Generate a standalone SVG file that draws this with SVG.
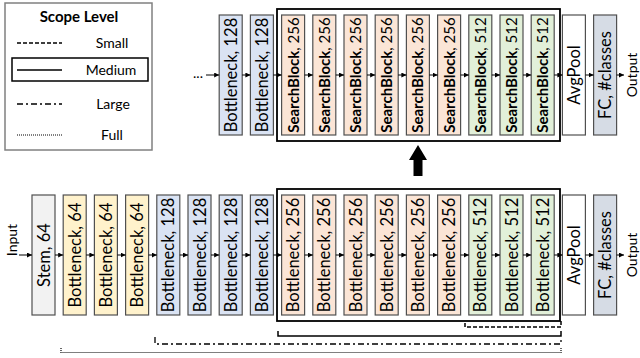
<svg xmlns="http://www.w3.org/2000/svg" width="640" height="358" viewBox="0 0 640 358">
<style>
.box{stroke:#505050;stroke-width:1.2}
.stem{fill:#f2f2f2}.y{fill:#fff2cc}.b{fill:#dae3f3}.o{fill:#fbe5d6}.g{fill:#e2f0d9}.w{fill:#ffffff}.fc{fill:#d6dce5}
.t{font-family:Lato,"Liberation Sans",sans-serif;font-size:16.5px;fill:#000;text-anchor:middle}
.ts{font-family:Lato,"Liberation Sans",sans-serif;font-size:15px;fill:#000;text-anchor:middle}
.lg{font-family:Lato,"Liberation Sans",sans-serif;font-size:14px;fill:#000;text-anchor:middle}
.conn line{stroke:#000;stroke-width:1}
.arr{marker-end:url(#ah)}
.scope{fill:none;stroke:#000}
</style>
<defs>
<marker id="ah" markerUnits="userSpaceOnUse" markerWidth="5" markerHeight="5" refX="5" refY="2.5" orient="auto">
<path d="M0,0 L5,2.5 L0,5 z" fill="#000"/>
</marker>
</defs>

<g id="legend">
<rect x="5" y="3" width="147" height="147" fill="#fff" stroke="#808080" stroke-width="1.5"/>
<text x="79" y="22" font-family="Lato,'Liberation Sans',sans-serif" font-size="15" font-weight="bold" text-anchor="middle">Scope Level</text>
<line x1="17" y1="43" x2="62" y2="43" stroke="#000" stroke-width="1.5" stroke-dasharray="4 2"/>
<text class="lg" x="112" y="48">Small</text>
<rect x="12" y="58" width="136" height="23" fill="none" stroke="#000" stroke-width="1.5"/>
<line x1="17" y1="70" x2="62" y2="70" stroke="#000" stroke-width="1.5"/>
<text class="lg" x="111" y="75">Medium</text>
<line x1="17" y1="104" x2="62" y2="104" stroke="#000" stroke-width="1.5" stroke-dasharray="6 3 2 3"/>
<text class="lg" x="113" y="109">Large</text>
<line x1="17" y1="135" x2="62" y2="135" stroke="#000" stroke-width="1" stroke-dasharray="1 1"/>
<text class="lg" x="112" y="140">Full</text>
</g>

<g id="scopes">
<rect x="277" y="9" width="283" height="132" class="scope" stroke-width="1.8"/>
<rect x="277" y="189" width="283" height="132" class="scope" stroke-width="1.8"/>
<polyline points="465,323 465,327 561,327 561,321" class="scope" stroke-width="1.5" stroke-dasharray="4 2"/>
<polyline points="278,331 278,336 561,336 561,331" class="scope" stroke-width="1.5"/>
<polyline points="155,337 155,344 561,344 561,337" class="scope" stroke-width="1.3" stroke-dasharray="6 3 2 3"/>
<polyline points="61,348 61,352.5 561,352.5 561,348" class="scope" stroke-width="1.2" stroke-dasharray="1 1"/>
</g>

<g id="up-arrow"><polygon points="418,145 427,160 422.5,160 422.5,176 413.5,176 413.5,160 409,160" fill="#000"/></g>

<!-- top row -->
<g id="top-dots"><text x="198" y="78" font-family="Lato,'Liberation Sans',sans-serif" font-size="14" text-anchor="middle">...</text></g>
<g id="top-b128a"><rect class="box b" x="219.2" y="15" width="23" height="120"/><text class="t" transform="translate(236.7,75) rotate(-90)">Bottleneck, 128</text></g>
<g id="top-b128b"><rect class="box b" x="250.4" y="15" width="23" height="120"/><text class="t" transform="translate(267.9,75) rotate(-90)">Bottleneck, 128</text></g>
<g id="top-s1"><rect class="box o" x="281.6" y="15" width="23" height="120"/><text class="ts" transform="translate(298.6,75) rotate(-90)"><tspan font-weight="bold">SearchBlock</tspan>, 256</text></g>
<g id="top-s2"><rect class="box o" x="312.8" y="15" width="23" height="120"/><text class="ts" transform="translate(329.8,75) rotate(-90)"><tspan font-weight="bold">SearchBlock</tspan>, 256</text></g>
<g id="top-s3"><rect class="box o" x="344" y="15" width="23" height="120"/><text class="ts" transform="translate(361,75) rotate(-90)"><tspan font-weight="bold">SearchBlock</tspan>, 256</text></g>
<g id="top-s4"><rect class="box o" x="375.2" y="15" width="23" height="120"/><text class="ts" transform="translate(392.2,75) rotate(-90)"><tspan font-weight="bold">SearchBlock</tspan>, 256</text></g>
<g id="top-s5"><rect class="box o" x="406.4" y="15" width="23" height="120"/><text class="ts" transform="translate(423.4,75) rotate(-90)"><tspan font-weight="bold">SearchBlock</tspan>, 256</text></g>
<g id="top-s6"><rect class="box o" x="437.6" y="15" width="23" height="120"/><text class="ts" transform="translate(454.6,75) rotate(-90)"><tspan font-weight="bold">SearchBlock</tspan>, 256</text></g>
<g id="top-s7"><rect class="box g" x="468.8" y="15" width="23" height="120"/><text class="ts" transform="translate(485.8,75) rotate(-90)"><tspan font-weight="bold">SearchBlock</tspan>, 512</text></g>
<g id="top-s8"><rect class="box g" x="500" y="15" width="23" height="120"/><text class="ts" transform="translate(517,75) rotate(-90)"><tspan font-weight="bold">SearchBlock</tspan>, 512</text></g>
<g id="top-s9"><rect class="box g" x="531.2" y="15" width="23" height="120"/><text class="ts" transform="translate(548.2,75) rotate(-90)"><tspan font-weight="bold">SearchBlock</tspan>, 512</text></g>
<g id="top-avg"><rect class="box w" x="562.4" y="15" width="23" height="120"/><text class="t" transform="translate(579.9,75) rotate(-90)">AvgPool</text></g>
<g id="top-fc"><rect class="box fc" x="593.6" y="15" width="23" height="120"/><text class="t" transform="translate(611.1,75) rotate(-90)">FC, #classes</text></g>
<g id="top-out"><text class="lg" transform="translate(637,75) rotate(-90)">Output</text></g>

<!-- bottom row -->
<g id="input"><text class="lg" transform="translate(17,240) rotate(-90)">Input</text></g>
<g id="stem"><rect class="box stem" x="32" y="195" width="23" height="120"/><text class="t" transform="translate(49.5,255) rotate(-90)">Stem, 64</text></g>
<g id="b64a"><rect class="box y" x="63.2" y="195" width="23" height="120"/><text class="t" transform="translate(80.7,255) rotate(-90)">Bottleneck, 64</text></g>
<g id="b64b"><rect class="box y" x="94.4" y="195" width="23" height="120"/><text class="t" transform="translate(111.9,255) rotate(-90)">Bottleneck, 64</text></g>
<g id="b64c"><rect class="box y" x="125.6" y="195" width="23" height="120"/><text class="t" transform="translate(143.1,255) rotate(-90)">Bottleneck, 64</text></g>
<g id="b128a"><rect class="box b" x="156.8" y="195" width="23" height="120"/><text class="t" transform="translate(174.3,255) rotate(-90)">Bottleneck, 128</text></g>
<g id="b128b"><rect class="box b" x="188" y="195" width="23" height="120"/><text class="t" transform="translate(205.5,255) rotate(-90)">Bottleneck, 128</text></g>
<g id="b128c"><rect class="box b" x="219.2" y="195" width="23" height="120"/><text class="t" transform="translate(236.7,255) rotate(-90)">Bottleneck, 128</text></g>
<g id="b128d"><rect class="box b" x="250.4" y="195" width="23" height="120"/><text class="t" transform="translate(267.9,255) rotate(-90)">Bottleneck, 128</text></g>
<g id="b256a"><rect class="box o" x="281.6" y="195" width="23" height="120"/><text class="t" transform="translate(299.1,255) rotate(-90)">Bottleneck, 256</text></g>
<g id="b256b"><rect class="box o" x="312.8" y="195" width="23" height="120"/><text class="t" transform="translate(330.3,255) rotate(-90)">Bottleneck, 256</text></g>
<g id="b256c"><rect class="box o" x="344" y="195" width="23" height="120"/><text class="t" transform="translate(361.5,255) rotate(-90)">Bottleneck, 256</text></g>
<g id="b256d"><rect class="box o" x="375.2" y="195" width="23" height="120"/><text class="t" transform="translate(392.7,255) rotate(-90)">Bottleneck, 256</text></g>
<g id="b256e"><rect class="box o" x="406.4" y="195" width="23" height="120"/><text class="t" transform="translate(423.9,255) rotate(-90)">Bottleneck, 256</text></g>
<g id="b256f"><rect class="box o" x="437.6" y="195" width="23" height="120"/><text class="t" transform="translate(455.1,255) rotate(-90)">Bottleneck, 256</text></g>
<g id="b512a"><rect class="box g" x="468.8" y="195" width="23" height="120"/><text class="t" transform="translate(486.3,255) rotate(-90)">Bottleneck, 512</text></g>
<g id="b512b"><rect class="box g" x="500" y="195" width="23" height="120"/><text class="t" transform="translate(517.5,255) rotate(-90)">Bottleneck, 512</text></g>
<g id="b512c"><rect class="box g" x="531.2" y="195" width="23" height="120"/><text class="t" transform="translate(548.7,255) rotate(-90)">Bottleneck, 512</text></g>
<g id="avg"><rect class="box w" x="562.4" y="195" width="23" height="120"/><text class="t" transform="translate(579.9,255) rotate(-90)">AvgPool</text></g>
<g id="fc"><rect class="box fc" x="593.6" y="195" width="23" height="120"/><text class="t" transform="translate(611.1,255) rotate(-90)">FC, #classes</text></g>
<g id="output"><text class="lg" transform="translate(637,255) rotate(-90)">Output</text></g>

<g id="connectors" class="conn">
<line class="arr" x1="206" y1="75" x2="219.2" y2="75"/>
<line class="arr" x1="242.2" y1="75" x2="250.4" y2="75"/>
<line class="arr" x1="273.4" y1="75" x2="281.6" y2="75"/>
<line class="arr" x1="304.6" y1="75" x2="312.8" y2="75"/>
<line class="arr" x1="335.8" y1="75" x2="344" y2="75"/>
<line class="arr" x1="367" y1="75" x2="375.2" y2="75"/>
<line class="arr" x1="398.2" y1="75" x2="406.4" y2="75"/>
<line class="arr" x1="429.4" y1="75" x2="437.6" y2="75"/>
<line class="arr" x1="460.6" y1="75" x2="468.8" y2="75"/>
<line class="arr" x1="491.8" y1="75" x2="500" y2="75"/>
<line class="arr" x1="523" y1="75" x2="531.2" y2="75"/>
<line class="arr" x1="554.2" y1="75" x2="562.4" y2="75"/>
<line class="arr" x1="585.4" y1="75" x2="593.6" y2="75"/>
<line class="arr" x1="616.6" y1="75" x2="624" y2="75"/>
<line class="arr" x1="19" y1="255" x2="32" y2="255"/>
<line class="arr" x1="55" y1="255" x2="63.2" y2="255"/>
<line class="arr" x1="86.2" y1="255" x2="94.4" y2="255"/>
<line class="arr" x1="117.4" y1="255" x2="125.6" y2="255"/>
<line class="arr" x1="148.6" y1="255" x2="156.8" y2="255"/>
<line class="arr" x1="179.8" y1="255" x2="188" y2="255"/>
<line class="arr" x1="211" y1="255" x2="219.2" y2="255"/>
<line class="arr" x1="242.2" y1="255" x2="250.4" y2="255"/>
<line class="arr" x1="273.4" y1="255" x2="281.6" y2="255"/>
<line class="arr" x1="304.6" y1="255" x2="312.8" y2="255"/>
<line class="arr" x1="335.8" y1="255" x2="344" y2="255"/>
<line class="arr" x1="367" y1="255" x2="375.2" y2="255"/>
<line class="arr" x1="398.2" y1="255" x2="406.4" y2="255"/>
<line class="arr" x1="429.4" y1="255" x2="437.6" y2="255"/>
<line class="arr" x1="460.6" y1="255" x2="468.8" y2="255"/>
<line class="arr" x1="491.8" y1="255" x2="500" y2="255"/>
<line class="arr" x1="523" y1="255" x2="531.2" y2="255"/>
<line class="arr" x1="554.2" y1="255" x2="562.4" y2="255"/>
<line class="arr" x1="585.4" y1="255" x2="593.6" y2="255"/>
<line class="arr" x1="616.6" y1="255" x2="624" y2="255"/>
</g>
</svg>
